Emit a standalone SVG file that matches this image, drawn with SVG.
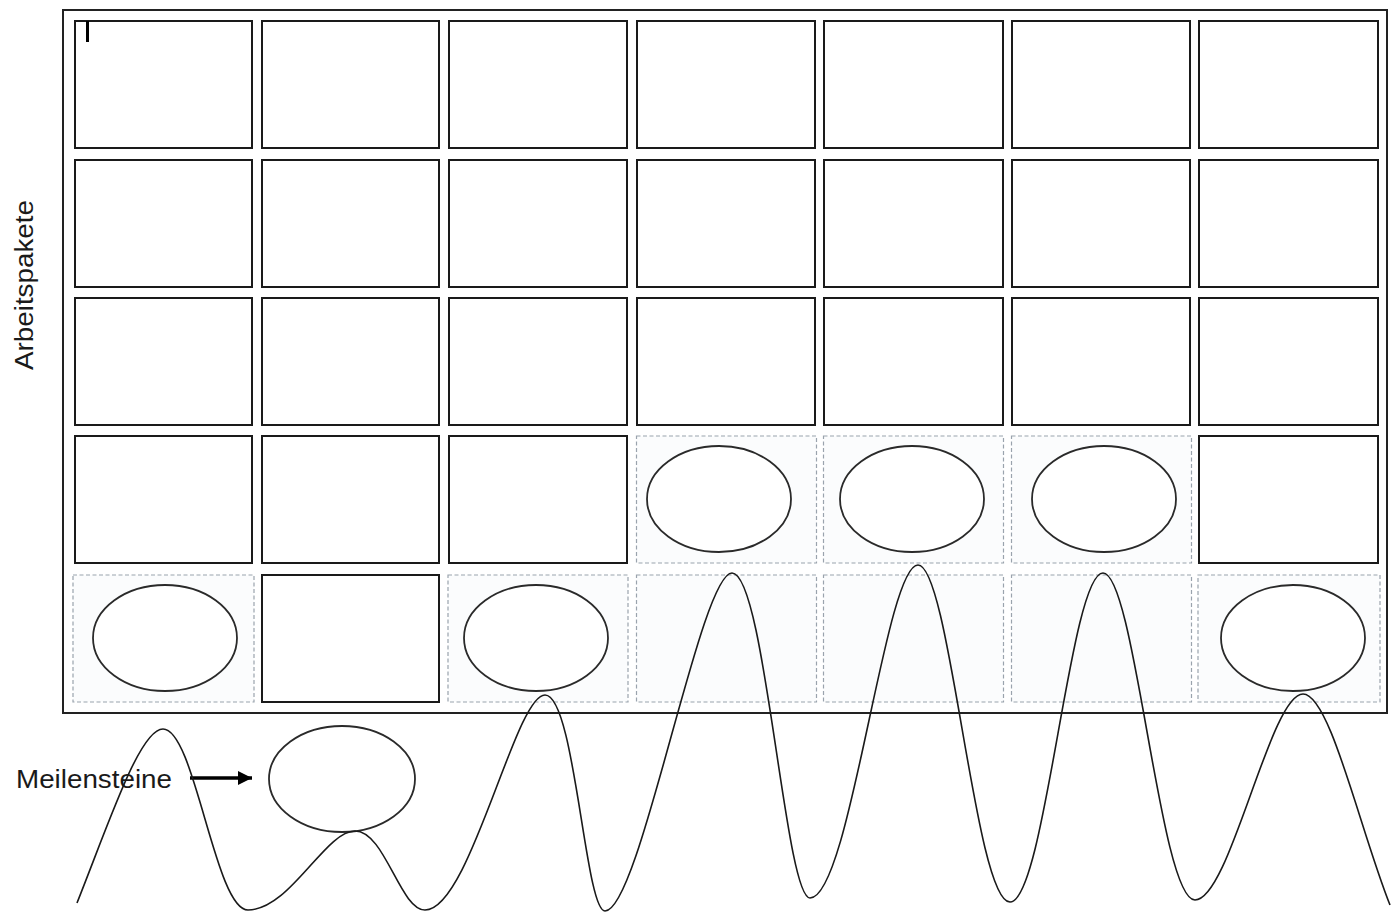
<svg xmlns="http://www.w3.org/2000/svg" width="1391" height="913" viewBox="0 0 1391 913">
<style>
.frame{fill:#fff;stroke:#222;stroke-width:2}
.cell{fill:#fff;stroke:#1a1a1a;stroke-width:2}
.dcell{fill:#fbfcfd;stroke:#9aa3ad;stroke-width:1.2;stroke-dasharray:4 2.5}
.ms{fill:#fff;stroke:#2a2a2a;stroke-width:1.8}
.lbl{font-family:"Liberation Sans",Arial,sans-serif;font-size:25px;fill:#1a1a1a}
.wave{fill:none;stroke:#1a1a1a;stroke-width:1.6}
</style>
<defs>
<marker id="ah" viewBox="0 0 14 14" refX="14" refY="7" markerWidth="14" markerHeight="14" markerUnits="userSpaceOnUse" orient="auto"><path d="M0,0 L14,7 L0,14 z" fill="#000"/></marker>
</defs>
<rect width="1391" height="913" fill="#fff"/>
<g id="frame"><rect class="frame" x="63" y="10" width="1324" height="703"/></g>
<g id="row1">
<rect id="r1c1" class="cell" x="75" y="21" width="177" height="127"/>
<rect id="r1c2" class="cell" x="262" y="21" width="177" height="127"/>
<rect id="r1c3" class="cell" x="449" y="21" width="178" height="127"/>
<rect id="r1c4" class="cell" x="637" y="21" width="178" height="127"/>
<rect id="r1c5" class="cell" x="824" y="21" width="179" height="127"/>
<rect id="r1c6" class="cell" x="1012" y="21" width="178" height="127"/>
<rect id="r1c7" class="cell" x="1199" y="21" width="179" height="127"/>
</g>
<g id="cursor"><line x1="87.5" y1="21" x2="87.5" y2="42" stroke="#000" stroke-width="3"/></g>
<g id="row2">
<rect id="r2c1" class="cell" x="75" y="160" width="177" height="127"/>
<rect id="r2c2" class="cell" x="262" y="160" width="177" height="127"/>
<rect id="r2c3" class="cell" x="449" y="160" width="178" height="127"/>
<rect id="r2c4" class="cell" x="637" y="160" width="178" height="127"/>
<rect id="r2c5" class="cell" x="824" y="160" width="179" height="127"/>
<rect id="r2c6" class="cell" x="1012" y="160" width="178" height="127"/>
<rect id="r2c7" class="cell" x="1199" y="160" width="179" height="127"/>
</g>
<g id="row3">
<rect id="r3c1" class="cell" x="75" y="298" width="177" height="127"/>
<rect id="r3c2" class="cell" x="262" y="298" width="177" height="127"/>
<rect id="r3c3" class="cell" x="449" y="298" width="178" height="127"/>
<rect id="r3c4" class="cell" x="637" y="298" width="178" height="127"/>
<rect id="r3c5" class="cell" x="824" y="298" width="179" height="127"/>
<rect id="r3c6" class="cell" x="1012" y="298" width="178" height="127"/>
<rect id="r3c7" class="cell" x="1199" y="298" width="179" height="127"/>
</g>
<g id="row4">
<rect id="r4c1" class="cell" x="75" y="436" width="177" height="127"/>
<rect id="r4c2" class="cell" x="262" y="436" width="177" height="127"/>
<rect id="r4c3" class="cell" x="449" y="436" width="178" height="127"/>
<g id="r4c4"><rect class="dcell" x="636.5" y="436" width="180" height="127"/><ellipse class="ms" cx="719" cy="499" rx="72" ry="53"/></g>
<g id="r4c5"><rect class="dcell" x="823.5" y="436" width="180" height="127"/><ellipse class="ms" cx="912" cy="499" rx="72" ry="53"/></g>
<g id="r4c6"><rect class="dcell" x="1011.5" y="436" width="180" height="127"/><ellipse class="ms" cx="1104" cy="499" rx="72" ry="53"/></g>
<rect id="r4c7" class="cell" x="1199" y="436" width="179" height="127"/>
</g>
<g id="row5">
<g id="r5c1"><rect class="dcell" x="73" y="575" width="181" height="127"/><ellipse class="ms" cx="165" cy="638" rx="72" ry="53"/></g>
<rect id="r5c2" class="cell" x="262" y="575" width="177" height="127"/>
<g id="r5c3"><rect class="dcell" x="448" y="575" width="180" height="127"/><ellipse class="ms" cx="536" cy="638" rx="72" ry="53"/></g>
<rect id="r5c4" class="dcell" x="636.5" y="575" width="180" height="127"/>
<rect id="r5c5" class="dcell" x="823.5" y="575" width="180" height="127"/>
<rect id="r5c6" class="dcell" x="1011.5" y="575" width="180" height="127"/>
<g id="r5c7"><rect class="dcell" x="1198" y="575" width="182" height="127"/><ellipse class="ms" cx="1293" cy="638" rx="72" ry="53"/></g>
</g>
<g id="label-arbeitspakete"><text class="lbl" transform="translate(33,370) rotate(-90)" textLength="170" lengthAdjust="spacingAndGlyphs">Arbeitspakete</text></g>
<g id="label-meilensteine"><text class="lbl" x="16" y="788" textLength="156" lengthAdjust="spacingAndGlyphs">Meilensteine</text></g>
<g id="milestone"><ellipse class="ms" cx="342" cy="779" rx="73" ry="53"/></g>
<g id="connectors">
<line x1="190" y1="778" x2="252" y2="778" stroke="#000" stroke-width="3.5" marker-end="url(#ah)"/>
</g>
<g id="wave">
<path class="wave" d="M77,903 C110,820 140,729 163,729 C195,729 215,910 248,910 C290,910 325,831 355,831 C385,831 400,910 425,910 C470,910 515,695 545,695 C575,695 585,911 605,911 C640,911 700,573 732,573 C765,573 785,898 810,898 C850,898 885,565 918,565 C950,565 975,902 1010,902 C1045,902 1070,573 1103,573 C1135,573 1160,900 1195,900 C1230,900 1270,694 1303,694 C1330,694 1360,830 1390,905"/>
</g>
</svg>
